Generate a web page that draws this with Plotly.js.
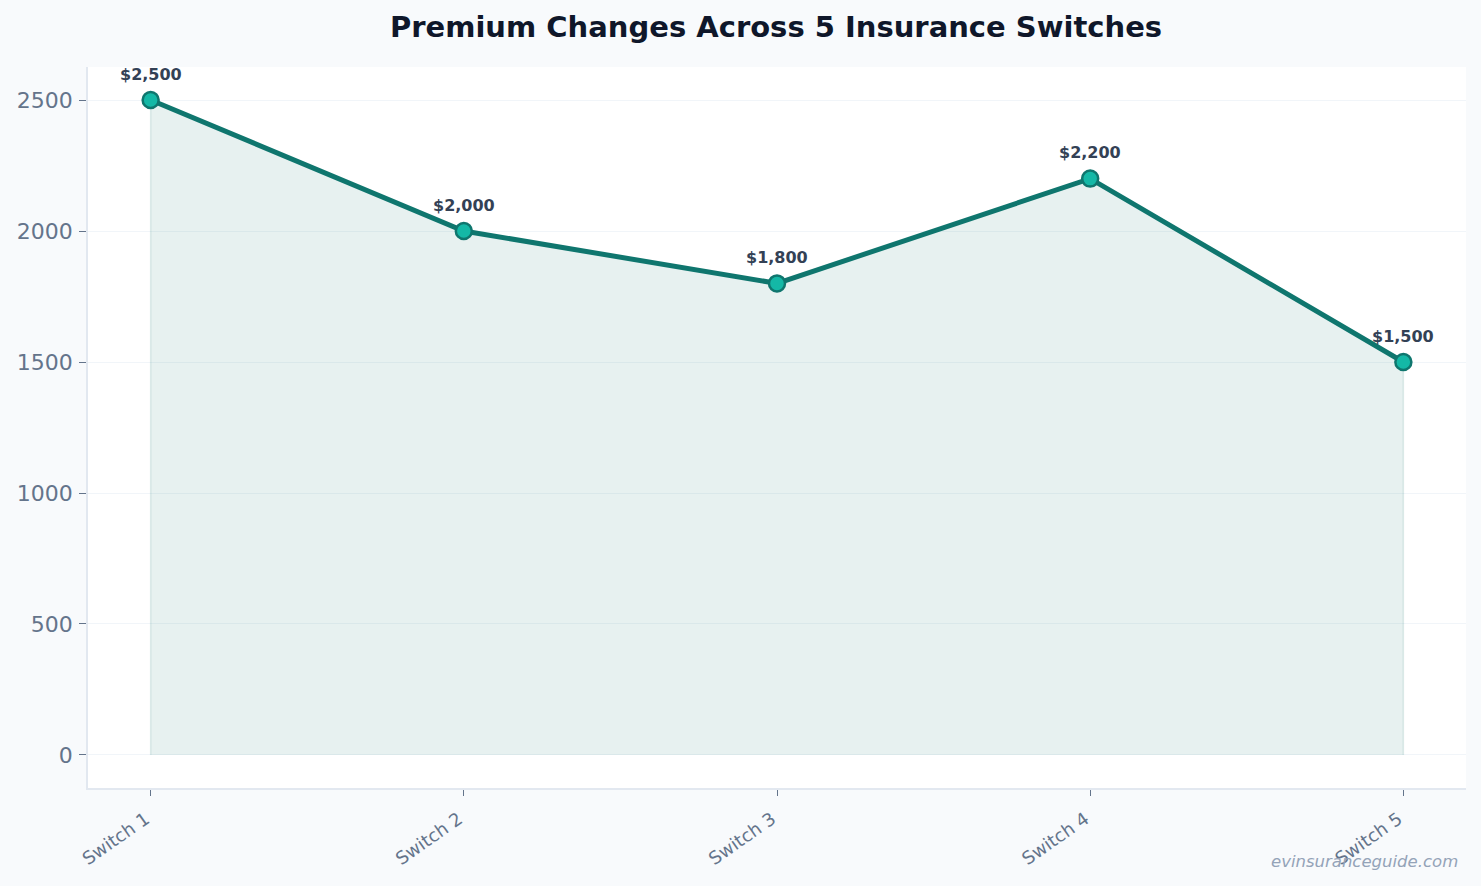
<!DOCTYPE html>
<html>
<head>
<meta charset="utf-8">
<script src="https://cdn.plot.ly/plotly-3.0.1.min.js"></script>
<style>
  html, body { margin: 0; padding: 0; background: #f8fafc; }
  #chart { width: 1481px; height: 886px; }
</style>
</head>
<body>
<div id="chart"></div>
<script>
// Premium paid after each insurance switch (USD)
const switches = ["Switch 1", "Switch 2", "Switch 3", "Switch 4", "Switch 5"];
const premiums = [2500, 2000, 1800, 2200, 1500];
const premiumLabels = ["$2,500", "$2,000", "$1,800", "$2,200", "$1,500"];

const lineColor = "#0f766e";
const markerColor = "#14b8a6";

// Shaded area under the line, closed down to zero at both ends
const areaX = [switches[0]].concat(switches, [switches[switches.length - 1]]);
const areaY = [0].concat(premiums, [0]);

const traces = [
  {
    x: areaX,
    y: areaY,
    type: "scatter",
    mode: "lines",
    fill: "toself",
    fillcolor: "rgba(15,118,110,0.10)",
    line: { color: "rgba(15,118,110,0.12)", width: 1.5 },
    hoverinfo: "skip",
    showlegend: false
  },
  {
    x: switches,
    y: premiums,
    type: "scatter",
    mode: "lines+markers",
    line: { color: lineColor, width: 5 },
    marker: { size: 16, color: markerColor, line: { color: lineColor, width: 2.5 } },
    showlegend: false
  }
];

const annotations = switches.map((s, i) => ({
  x: s,
  y: premiums[i],
  xref: "x",
  yref: "y",
  text: premiumLabels[i],
  showarrow: false,
  yshift: 26,
  font: { family: "DejaVu Sans", size: 16, color: "#334155", weight: "bold" }
}));

annotations.push({
  xref: "paper",
  yref: "paper",
  x: 0.9956,
  y: -0.1026,
  xanchor: "right",
  yanchor: "middle",
  text: "<i>evinsuranceguide.com</i>",
  showarrow: false,
  font: { family: "DejaVu Sans", size: 16.5, color: "#94a3b8" }
});

const layout = {
  width: 1481,
  height: 886,
  paper_bgcolor: "#f8fafc",
  plot_bgcolor: "#ffffff",
  margin: { l: 88, r: 15, t: 67, b: 98 },
  title: {
    text: "<b>Premium Changes Across 5 Insurance Switches</b>",
    x: 0.524,
    xanchor: "center",
    y: 0.9695,
    yanchor: "middle",
    font: { family: "DejaVu Sans", size: 29, color: "#0f172a" }
  },
  xaxis: {
    type: "category",
    range: [-0.2, 4.2],
    tickangle: -35,
    ticks: "outside",
    ticklen: 6,
    tickcolor: "#64748b",
    ticklabelstandoff: 6,
    ticklabelshift: -5,
    tickfont: { family: "DejaVu Sans", size: 18, color: "#64748b" },
    showgrid: false,
    showline: true,
    linecolor: "#e2e8f0",
    linewidth: 1.5,
    zeroline: false
  },
  yaxis: {
    range: [-126, 2626],
    tickvals: [0, 500, 1000, 1500, 2000, 2500],
    ticks: "outside",
    ticklen: 7,
    tickcolor: "#64748b",
    ticklabelstandoff: 2,
    tickfont: { family: "DejaVu Sans", size: 22, color: "#64748b" },
    showgrid: true,
    gridcolor: "#f1f5f9",
    gridwidth: 1,
    showline: true,
    linecolor: "#e2e8f0",
    linewidth: 1.5,
    zeroline: false
  },
  annotations: annotations
};

Plotly.newPlot("chart", traces, layout, { displayModeBar: false, responsive: false });
</script>
</body>
</html>
